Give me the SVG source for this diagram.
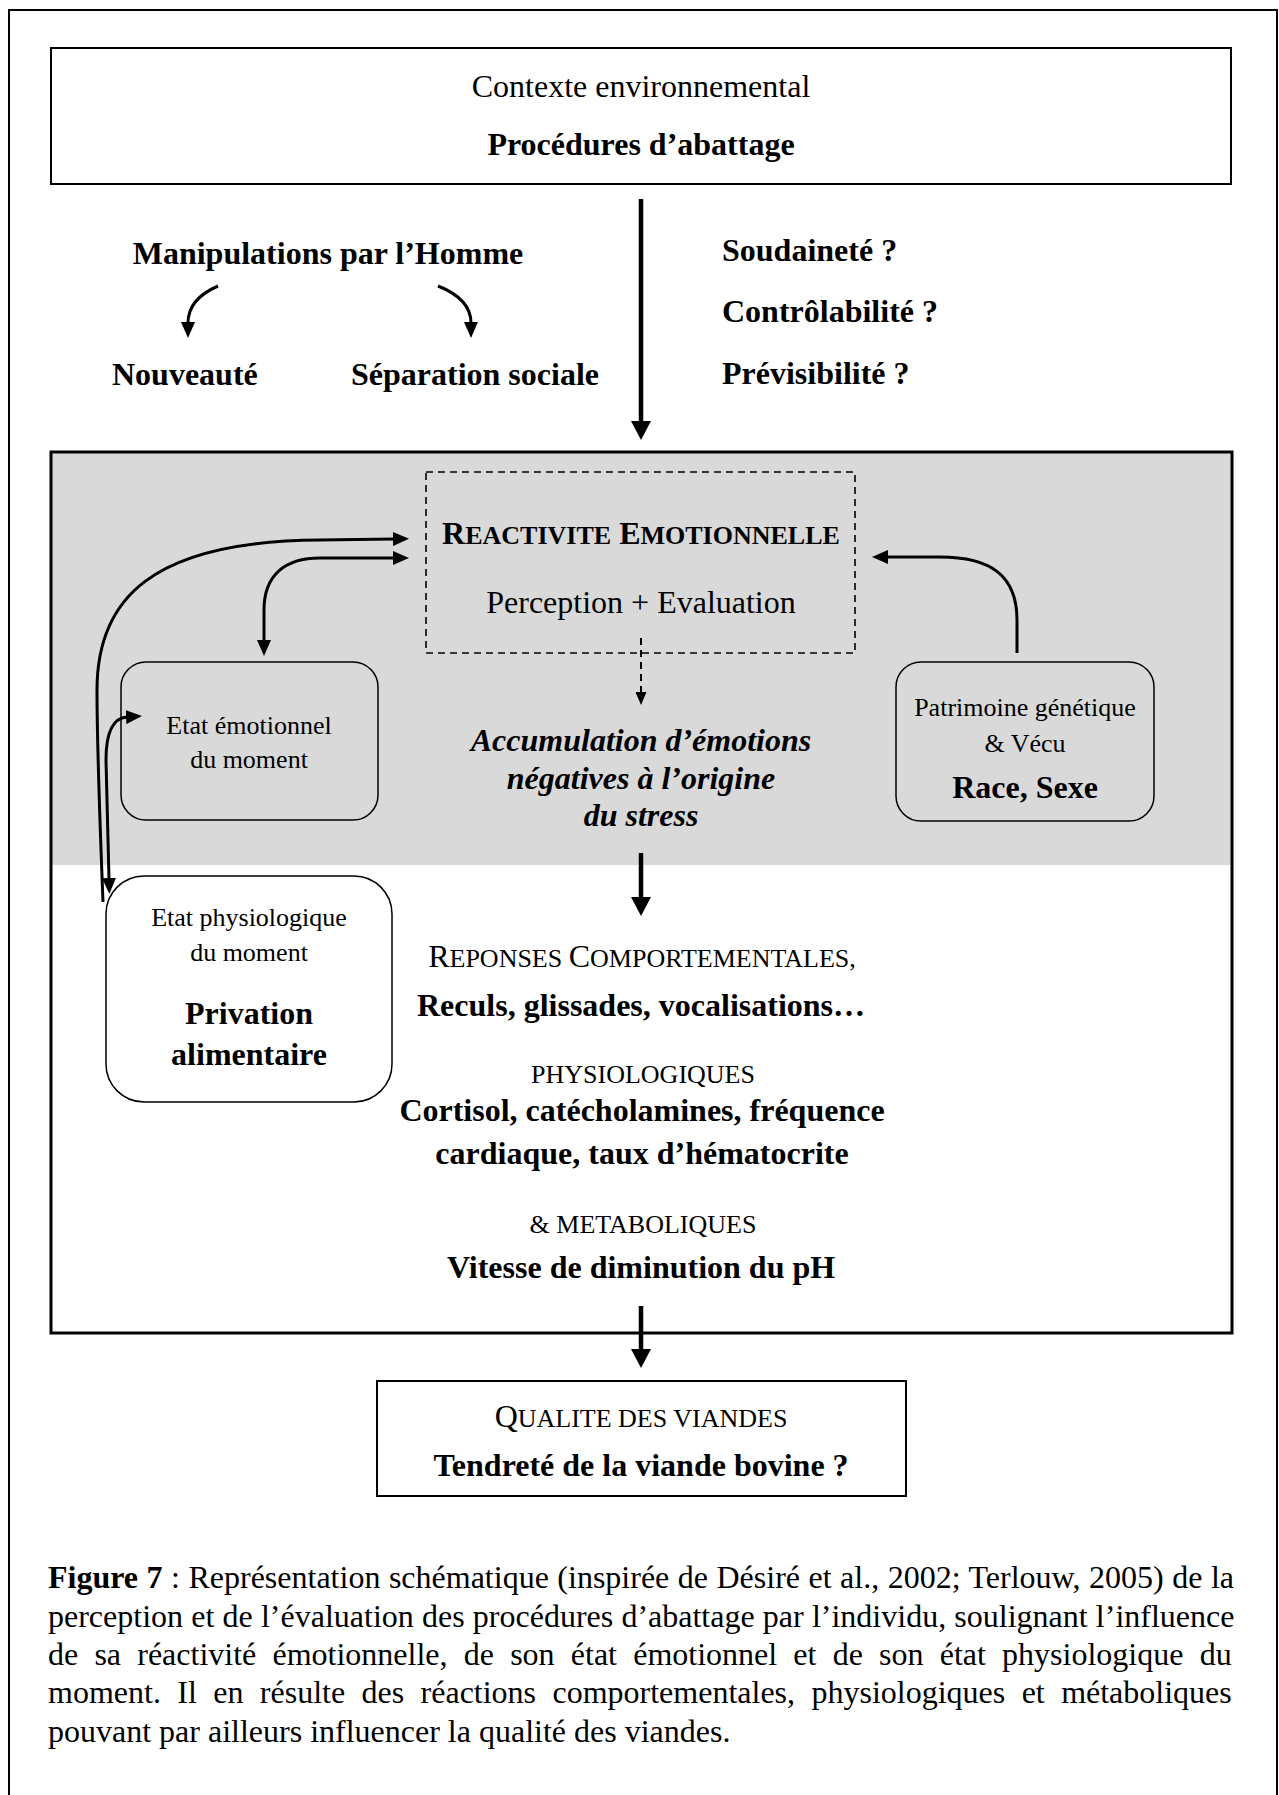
<svg xmlns="http://www.w3.org/2000/svg" width="1279" height="1795" viewBox="0 0 1279 1795">
<style>
text{font-family:"Liberation Serif","Times New Roman",serif;fill:#000}
.r32{font-size:32px}
.b32{font-size:32px;font-weight:bold}
.bi32{font-size:32px;font-weight:bold;font-style:italic}
.r26{font-size:26px}
.sc{font-size:26px}
.box{fill:#fff;stroke:#000;stroke-width:2}
.gbox{fill:none;stroke:#000;stroke-width:1.5}
.c{fill:none;stroke:#000}
.thick{stroke-width:4.5}
.thin{stroke-width:3}
.mid{text-anchor:middle}
</style>
<defs>
<marker id="hb" markerUnits="userSpaceOnUse" markerWidth="20" markerHeight="20" viewBox="0 0 19 20" refX="1" refY="10" orient="auto"><path d="M0,0 L19,10 L0,20 z" fill="#000"/></marker>
<marker id="hs" markerUnits="userSpaceOnUse" markerWidth="16" markerHeight="14" viewBox="0 0 16 14" refX="1" refY="7" orient="auto-start-reverse"><path d="M0,0 L16,7 L0,14 z" fill="#000"/></marker>
<marker id="hd" markerUnits="userSpaceOnUse" markerWidth="13" markerHeight="11" viewBox="0 0 13 11" refX="1" refY="5.5" orient="auto"><path d="M0,0 L13,5.5 L0,11 z" fill="#000"/></marker>
</defs>

<rect id="frame" x="9" y="10" width="1268" height="1800" fill="#fff" stroke="#000" stroke-width="2"/>

<g id="contexte">
<rect class="box" x="51" y="48" width="1180" height="136"/>
<text class="r32 mid" x="641" y="97">Contexte environnemental</text>
<text class="b32 mid" x="641" y="155">Procédures d’abattage</text>
</g>

<g id="manipulations">
<text class="b32 mid" x="328" y="264">Manipulations par l’Homme</text>
</g>
<g id="nouveaute"><text class="b32" x="112" y="385">Nouveauté</text></g>
<g id="separation"><text class="b32" x="351" y="385">Séparation sociale</text></g>
<g id="facteurs">
<text class="b32" x="722" y="261">Soudaineté ?</text>
<text class="b32" x="722" y="322">Contrôlabilité ?</text>
<text class="b32" x="722" y="384">Prévisibilité ?</text>
</g>

<g id="individu">
<rect x="51" y="452" width="1181" height="413" fill="#d9d9d9"/>
<rect x="51" y="452" width="1181" height="881" fill="none" stroke="#000" stroke-width="3"/>
</g>

<g id="reactivite">
<rect x="426" y="472" width="429" height="181" fill="none" stroke="#000" stroke-width="1.6" stroke-dasharray="7 5"/>
<text class="b32 mid" x="641" y="544">R<tspan class="sc">EACTIVITE</tspan> E<tspan class="sc">MOTIONNELLE</tspan></text>
<text class="r32 mid" x="641" y="613">Perception + Evaluation</text>
</g>

<g id="etat-emotionnel">
<rect class="gbox" x="121" y="662" width="257" height="158" rx="25"/>
<text class="r26 mid" x="249" y="734">Etat émotionnel</text>
<text class="r26 mid" x="249" y="768">du moment</text>
</g>

<g id="patrimoine">
<rect class="gbox" x="896" y="662" width="258" height="159" rx="25"/>
<text class="r26 mid" x="1025" y="716">Patrimoine génétique</text>
<text class="r26 mid" x="1025" y="752">&amp; Vécu</text>
<text class="b32 mid" x="1025" y="798">Race, Sexe</text>
</g>

<g id="accumulation">
<text class="bi32 mid" x="641" y="751">Accumulation d’émotions</text>
<text class="bi32 mid" x="641" y="789">négatives à l’origine</text>
<text class="bi32 mid" x="641" y="826">du stress</text>
</g>

<g id="etat-physiologique">
<rect x="106" y="876" width="286" height="226" rx="38" fill="#fff" stroke="#000" stroke-width="1.5"/>
<text class="r26 mid" x="249" y="926">Etat physiologique</text>
<text class="r26 mid" x="249" y="961">du moment</text>
<text class="b32 mid" x="249" y="1024">Privation</text>
<text class="b32 mid" x="249" y="1065">alimentaire</text>
</g>

<g id="reponses">
<text class="r32 mid" x="642" y="967">R<tspan class="sc">EPONSES </tspan>C<tspan class="sc">OMPORTEMENTALES,</tspan></text>
<text class="b32 mid" x="641" y="1016">Reculs, glissades, vocalisations…</text>
<text class="sc mid" x="643" y="1083">PHYSIOLOGIQUES</text>
<text class="b32 mid" x="642" y="1121">Cortisol, catécholamines, fréquence</text>
<text class="b32 mid" x="642" y="1164">cardiaque, taux d’hématocrite</text>
<text class="sc mid" x="643" y="1233">&amp; METABOLIQUES</text>
<text class="b32 mid" x="641" y="1278">Vitesse de diminution du pH</text>
</g>

<g id="qualite">
<rect x="377" y="1381" width="529" height="115" fill="#fff" stroke="#000" stroke-width="2"/>
<text class="r32 mid" x="641" y="1427">Q<tspan class="sc">UALITE DES VIANDES</tspan></text>
<text class="b32 mid" x="641" y="1476">Tendreté de la viande bovine ?</text>
</g>

<g id="connectors">
<path class="c thick" d="M641,199 L641,422" marker-end="url(#hb)"/>
<path class="c thin" d="M218,286 Q188,299 188,323" marker-end="url(#hs)"/>
<path class="c thin" d="M438,286 Q471,299 471,323" marker-end="url(#hs)"/>
<path class="c thin" d="M103,902 C99,800 97,740 97,690 C97,600 150,541 320,540 L394,539" marker-end="url(#hs)"/>
<path class="c thin" d="M127,717 C112,718 106,735 106,760 L109,879" marker-start="url(#hs)" marker-end="url(#hs)"/>
<path class="c thin" d="M394,558 L320,558 C285,558 264,575 264,610 L264,641" marker-start="url(#hs)" marker-end="url(#hs)"/>
<path class="c thin" d="M1017,653 L1017,620 C1017,575 990,557 940,557 L887,557" marker-end="url(#hs)"/>
<path class="c" stroke-width="2" stroke-dasharray="7 5" d="M641,638 L641,693" marker-end="url(#hd)"/>
<path class="c thick" d="M641,853 L641,898" marker-end="url(#hb)"/>
<path class="c thick" d="M641,1306 L641,1350" marker-end="url(#hb)"/>
</g>

<g id="caption" class="r32">
<text x="48" y="1588" style="font-size:32px;word-spacing:0.5px"><tspan font-weight="bold">Figure 7</tspan> : Représentation schématique (inspirée de Désiré et al., 2002; Terlouw, 2005) de la</text>
<text x="48" y="1627" style="font-size:32px;word-spacing:0.2px">perception et de l’évaluation des procédures d’abattage par l’individu, soulignant l’influence</text>
<text x="48" y="1665" style="font-size:32px;word-spacing:8.2px">de sa réactivité émotionnelle, de son état émotionnel et de son état physiologique du</text>
<text x="48" y="1703" style="font-size:32px;word-spacing:8.4px">moment. Il en résulte des réactions comportementales, physiologiques et métaboliques</text>
<text x="48" y="1742" style="font-size:32px">pouvant par ailleurs influencer la qualité des viandes.</text>
</g>
</svg>
